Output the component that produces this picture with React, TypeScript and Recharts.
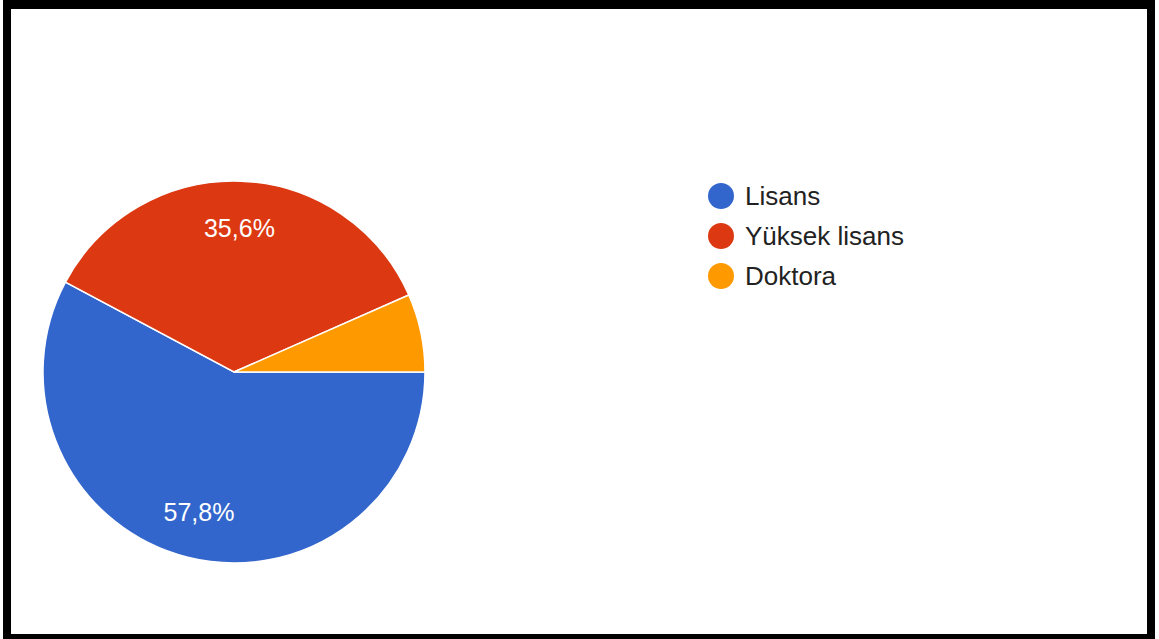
import { PieChart, Pie, Cell } from 'recharts';

const categories = ['Lisans', 'Yüksek lisans', 'Doktora'];
const percents = [57.8, 35.6, 6.6];
const colors = ['#3366cc', '#dc3912', '#ff9900'];

const data = categories.map((name, i) => ({ name, value: percents[i] }));

const RADIAN = Math.PI / 180;
const FONT = 'Arial, "Liberation Sans", sans-serif';

// eslint-disable-next-line @typescript-eslint/no-explicit-any
const renderLabel = ({ cx, cy, midAngle, outerRadius, value }: any) => {
  if (value < 10) return null;
  const r = outerRadius * 0.755;
  const x = cx + r * Math.cos(-midAngle * RADIAN);
  const y = cy + r * Math.sin(-midAngle * RADIAN);
  return (
    <text
      x={x}
      y={y}
      fill="#ffffff"
      textAnchor="middle"
      dominantBaseline="central"
      fontSize={25}
      fontFamily={FONT}
    >
      {value.toFixed(1).replace('.', ',')}%
    </text>
  );
};

function ChartLegend() {
  return (
    <div style={{ position: 'absolute', left: 708, top: 176, fontFamily: FONT }}>
      {categories.map((name, i) => (
        <div key={name} style={{ display: 'flex', alignItems: 'center', height: 40 }}>
          <span
            style={{
              width: 26,
              height: 26,
              borderRadius: '50%',
              background: colors[i],
              marginRight: 11,
              display: 'inline-block',
            }}
          />
          <span style={{ fontSize: 26, color: '#222222' }}>{name}</span>
        </div>
      ))}
    </div>
  );
}

export default function App() {
  return (
    <div style={{ position: 'fixed', left: 0, top: 0, width: 1159, height: 639, background: '#ffffff' }}>
      <PieChart width={1159} height={639} margin={{ top: 0, right: 0, bottom: 0, left: 0 }}>
        <Pie
          data={data}
          dataKey="value"
          nameKey="name"
          cx={234}
          cy={372}
          outerRadius={191}
          startAngle={0}
          endAngle={-360}
          stroke="#ffffff"
          strokeWidth={1.5}
          label={renderLabel}
          labelLine={false}
          isAnimationActive={false}
        >
          {data.map((d, i) => (
            <Cell key={d.name} fill={colors[i]} />
          ))}
        </Pie>
      </PieChart>
      <ChartLegend />
      <div
        style={{
          position: 'absolute',
          left: 3,
          top: 0,
          width: 1136,
          height: 625,
          borderStyle: 'solid',
          borderColor: '#000000',
          borderWidth: '9px 8px 5px 8px',
          pointerEvents: 'none',
        }}
      />
    </div>
  );
}
